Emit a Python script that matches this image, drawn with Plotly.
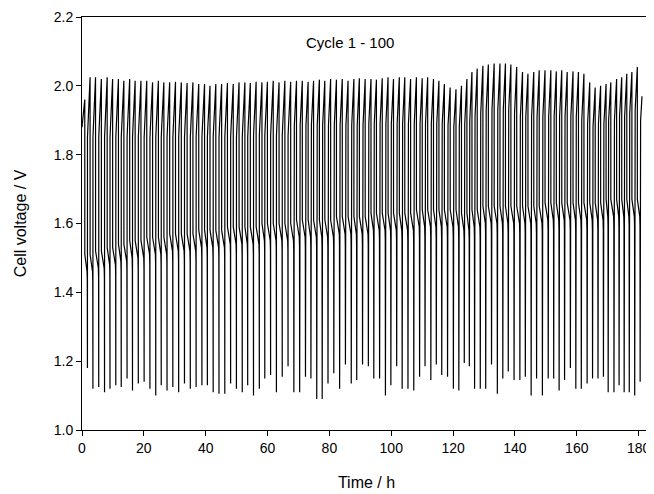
import plotly.graph_objects as go

# time (h) of each end-of-discharge minimum
trough_time_h = [
    1.76, 3.53, 5.41, 7.29, 9.05, 10.93, 12.69, 14.57, 16.33, 18.21,
    20.09, 21.97, 23.85, 25.62, 27.50, 29.38, 31.26, 33.14, 35.02, 36.90,
    38.78, 40.54, 42.42, 44.30, 46.18, 48.06, 49.94, 51.82, 53.58, 55.46,
    57.34, 59.11, 60.99, 62.87, 64.75, 66.63, 68.51, 70.39, 72.27, 74.03,
    75.91, 77.67, 79.55, 81.43, 83.31, 85.19, 87.07, 88.84, 90.72, 92.60,
    94.36, 96.24, 98.12, 99.88, 101.76, 103.53, 105.41, 107.29, 109.17, 110.93,
    112.81, 114.57, 116.33, 118.21, 120.09, 121.86, 123.62, 125.25, 126.95, 128.79,
    130.55, 132.43, 134.31, 136.08, 137.84, 139.72, 141.60, 143.36, 145.24, 147.00,
    148.88, 150.76, 152.53, 154.29, 156.05, 157.93, 159.69, 161.46, 163.34, 165.10,
    166.86, 168.62, 170.15, 172.03, 173.68, 175.32, 176.97, 178.73, 180.49,
]

# voltage at those minima
trough_v = [
    1.18, 1.12, 1.125, 1.11, 1.12, 1.13, 1.125, 1.15, 1.115, 1.135,
    1.14, 1.12, 1.10, 1.13, 1.115, 1.125, 1.11, 1.135, 1.12, 1.125,
    1.13, 1.13, 1.11, 1.105, 1.105, 1.135, 1.12, 1.11, 1.13, 1.10,
    1.12, 1.15, 1.16, 1.11, 1.155, 1.185, 1.11, 1.11, 1.155, 1.15,
    1.09, 1.09, 1.135, 1.165, 1.12, 1.19, 1.135, 1.145, 1.19, 1.185,
    1.15, 1.15, 1.10, 1.13, 1.185, 1.12, 1.12, 1.115, 1.155, 1.185,
    1.145, 1.19, 1.16, 1.155, 1.12, 1.115, 1.195, 1.185, 1.12, 1.12,
    1.12, 1.19, 1.105, 1.15, 1.17, 1.145, 1.145, 1.155, 1.10, 1.15,
    1.10, 1.15, 1.15, 1.115, 1.145, 1.18, 1.12, 1.12, 1.135, 1.15,
    1.15, 1.155, 1.11, 1.11, 1.13, 1.11, 1.11, 1.10, 1.14,
]

# discharge plateau: voltage just after switching to discharge, and just before the final drop
discharge_start_v = [
    1.51, 1.51, 1.52, 1.52, 1.53, 1.53, 1.54, 1.54, 1.55, 1.55,
    1.55, 1.56, 1.56, 1.56, 1.56, 1.57, 1.57, 1.57, 1.57, 1.57,
    1.58, 1.58, 1.58, 1.58, 1.58, 1.59, 1.59, 1.59, 1.59, 1.59,
    1.59, 1.60, 1.60, 1.60, 1.60, 1.60, 1.60, 1.61, 1.61, 1.61,
    1.61, 1.61, 1.61, 1.61, 1.62, 1.62, 1.62, 1.62, 1.62, 1.62,
    1.63, 1.63, 1.63, 1.63, 1.63, 1.63, 1.63, 1.63, 1.64, 1.64,
    1.64, 1.64, 1.64, 1.64, 1.64, 1.64, 1.63, 1.63, 1.64, 1.64,
    1.65, 1.65, 1.65, 1.65, 1.65, 1.65, 1.65, 1.65, 1.65, 1.65,
    1.65, 1.66, 1.66, 1.66, 1.66, 1.66, 1.66, 1.66, 1.66, 1.66,
    1.66, 1.66, 1.67, 1.67, 1.67, 1.67, 1.67, 1.67, 1.67,
]
discharge_end_v = [
    1.46, 1.46, 1.47, 1.47, 1.48, 1.48, 1.49, 1.49, 1.50, 1.50,
    1.50, 1.51, 1.51, 1.51, 1.51, 1.52, 1.52, 1.52, 1.52, 1.52,
    1.53, 1.53, 1.53, 1.53, 1.53, 1.54, 1.54, 1.54, 1.54, 1.54,
    1.54, 1.55, 1.55, 1.55, 1.55, 1.55, 1.55, 1.56, 1.56, 1.56,
    1.56, 1.56, 1.56, 1.56, 1.57, 1.57, 1.57, 1.57, 1.57, 1.57,
    1.58, 1.58, 1.58, 1.58, 1.58, 1.58, 1.58, 1.58, 1.59, 1.59,
    1.59, 1.59, 1.59, 1.59, 1.59, 1.59, 1.58, 1.58, 1.59, 1.59,
    1.60, 1.60, 1.60, 1.60, 1.60, 1.60, 1.60, 1.60, 1.60, 1.60,
    1.60, 1.61, 1.61, 1.61, 1.61, 1.61, 1.61, 1.61, 1.61, 1.61,
    1.61, 1.61, 1.62, 1.62, 1.62, 1.62, 1.62, 1.62, 1.62,
]

# charge: early plateau voltage and end-of-charge peak, one per charge step (100)
charge_start_v = [
    1.88, 1.88, 1.88, 1.88, 1.88, 1.88, 1.88, 1.88, 1.88, 1.88,
    1.88, 1.88, 1.88, 1.88, 1.88, 1.88, 1.88, 1.88, 1.88, 1.88,
    1.88, 1.88, 1.88, 1.88, 1.88, 1.88, 1.88, 1.88, 1.88, 1.88,
    1.885, 1.885, 1.885, 1.885, 1.885, 1.885, 1.885, 1.885, 1.885, 1.885,
    1.885, 1.885, 1.885, 1.885, 1.885, 1.885, 1.885, 1.885, 1.885, 1.885,
    1.89, 1.89, 1.89, 1.89, 1.89, 1.89, 1.89, 1.89, 1.89, 1.89,
    1.89, 1.89, 1.89, 1.89, 1.885, 1.88, 1.88, 1.89, 1.90, 1.91,
    1.92, 1.93, 1.93, 1.93, 1.93, 1.93, 1.92, 1.91, 1.91, 1.91,
    1.91, 1.91, 1.91, 1.91, 1.91, 1.91, 1.91, 1.91, 1.90, 1.89,
    1.88, 1.89, 1.89, 1.90, 1.90, 1.91, 1.91, 1.92, 1.93, 1.90,
]
charge_peak_v = [
    1.96,
    2.025, 2.025, 2.02, 2.025, 2.02, 2.02, 2.015, 2.02, 2.015, 2.015,
    2.015, 2.01, 2.015, 2.01, 2.01, 2.012, 2.01, 2.008, 2.01, 2.005, 2.005,
    2.0, 2.005, 2.005, 2.008, 2.005, 2.01, 2.01, 2.008, 2.012, 2.01, 2.012, 2.015,
    2.01, 2.015, 2.012, 2.015, 2.015, 2.012, 2.015, 2.018, 2.015, 2.02, 2.018,
    2.02, 2.015, 2.02, 2.022, 2.02, 2.02, 2.018, 2.022, 2.025, 2.02, 2.025,
    2.025, 2.02, 2.025, 2.022, 2.025, 2.02, 2.015, 2.005, 1.995, 1.99, 2.0,
    2.02, 2.04, 2.05, 2.058, 2.062, 2.065, 2.065, 2.065, 2.062, 2.055,
    2.04, 2.035, 2.04, 2.045, 2.045, 2.045, 2.042, 2.045, 2.04, 2.042, 2.04, 2.035,
    2.01, 1.995, 2.0, 2.005, 2.01,
    2.02, 2.025, 2.035, 2.04, 2.055,
    1.97,
]

x_ticks = [0, 20, 40, 60, 80, 100, 120, 140, 160, 180]
y_ticks = [1.0, 1.2, 1.4, 1.6, 1.8, 2.0, 2.2]

# step durations (h) within a cycle
charge_len = 0.85
rise_len = 0.15
plateau_gap = 0.12
knee_gap = 0.05

t, v = [0.0], [charge_start_v[0]]
t.append(0.9)
v.append(charge_peak_v[0])
starts = [0.0] + trough_time_h
for k, tk in enumerate(trough_time_h):
    # discharge of the cycle that ends at trough k
    pk = starts[k] + (0.9 if k == 0 else charge_len)
    t += [pk + 0.01, tk - plateau_gap, tk - knee_gap, tk]
    v += [discharge_start_v[k], discharge_end_v[k], discharge_end_v[k] - 0.03, trough_v[k]]
    # next charge
    nk = k + 1
    end = charge_len if nk < len(trough_time_h) else 0.6
    t += [tk + 0.01, tk + rise_len, tk + end]
    v += [charge_start_v[nk] - 0.03, charge_start_v[nk], charge_peak_v[nk]]

fig = go.Figure(go.Scatter(x=t, y=v, mode='lines',
                           line=dict(color='black', width=1.2)))

axis_style = dict(showline=True, linecolor='black', linewidth=1, mirror=True,
                  ticks='outside', ticklen=5, tickcolor='black',
                  showgrid=False, zeroline=False, automargin=False,
                  tickfont=dict(size=14))

fig.update_xaxes(range=[0, 184], tickvals=x_ticks,
                 title=dict(text='Time / h', font=dict(size=16), standoff=22),
                 **axis_style)
fig.update_yaxes(range=[1.0, 2.2], tickvals=y_ticks, tickformat='.1f',
                 title=dict(text='Cell voltage / V', font=dict(size=16), standoff=23),
                 **axis_style)

fig.add_annotation(x=86.6, y=2.127, text='Cycle 1 - 100', showarrow=False,
                   font=dict(size=15))

# page body adds an 8 px margin, so the figure is sized and offset for it
fig.update_layout(
    width=646, height=486,
    margin=dict(l=74, r=3, t=9, b=64),
    plot_bgcolor='white', paper_bgcolor='white',
    font=dict(family='Liberation Sans, Arial, sans-serif', size=14, color='black'),
    showlegend=False,
)

fig.write_html("out.html")
